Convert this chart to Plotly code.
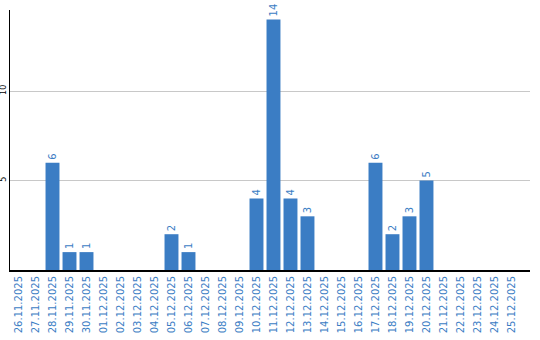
import plotly.graph_objects as go

dates = ["26.11.2025", "27.11.2025", "28.11.2025", "29.11.2025", "30.11.2025",
         "01.12.2025", "02.12.2025", "03.12.2025", "04.12.2025", "05.12.2025",
         "06.12.2025", "07.12.2025", "08.12.2025", "09.12.2025", "10.12.2025",
         "11.12.2025", "12.12.2025", "13.12.2025", "14.12.2025", "15.12.2025",
         "16.12.2025", "17.12.2025", "18.12.2025", "19.12.2025", "20.12.2025",
         "21.12.2025", "22.12.2025", "23.12.2025", "24.12.2025", "25.12.2025"]
counts = [0, 0, 6, 1, 1,
          0, 0, 0, 0, 2,
          1, 0, 0, 0, 4,
          14, 4, 3, 0, 0,
          0, 6, 2, 3, 5,
          0, 0, 0, 0, 0]
y_ticks = [5, 10]

BLUE = "#3b7dc4"
labels = [str(v) if v > 0 else "" for v in counts]

fig = go.Figure(go.Bar(
    x=dates, y=counts, text=labels,
    textposition="outside", textangle=-90, constraintext="none",
    cliponaxis=False,
    textfont=dict(family="DejaVu Sans", size=10, color=BLUE),
    marker=dict(color=BLUE, line=dict(width=0)),
))

fig.update_layout(
    width=540, height=340,
    margin=dict(l=10, r=10, t=10, b=70),
    paper_bgcolor="white", plot_bgcolor="white",
    bargap=0.18, showlegend=False,
    font=dict(family="DejaVu Sans"),
)
fig.update_xaxes(
    type="category", range=[-0.5, 30.09], automargin=False,
    tickangle=-90, tickfont=dict(size=10, color=BLUE),
    showline=True, linecolor="black", linewidth=2,
    showgrid=False, ticks="",
)
fig.update_yaxes(
    range=[0, 14.53], tickvals=y_ticks, tickangle=-90, automargin=False,
    tickfont=dict(size=8, color="black"),
    showline=True, linecolor="black", linewidth=1,
    showgrid=True, gridcolor="#c8c8c8", gridwidth=1,
    zeroline=False, ticks="",
)

fig.write_html("out.html")
